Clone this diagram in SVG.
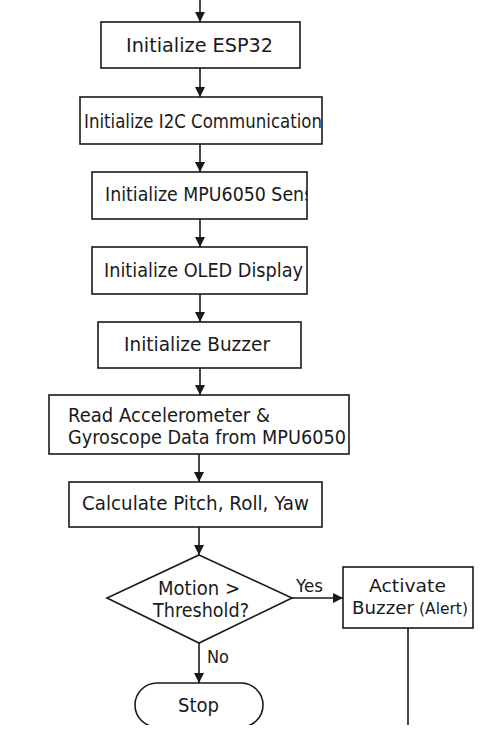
<svg xmlns="http://www.w3.org/2000/svg" width="485" height="752" viewBox="0 0 485 752">
  <defs>
    <marker id="arr" viewBox="0 0 10 10" refX="10" refY="5" markerWidth="10" markerHeight="10" markerUnits="userSpaceOnUse" orient="auto">
      <path d="M0,0 L10,5 L0,10 z" fill="#1a1a1a"/>
    </marker>
    <clipPath id="c2"><rect x="80" y="97" width="242" height="47"/></clipPath>
    <clipPath id="c3"><rect x="92" y="172" width="215" height="47"/></clipPath>
    <clipPath id="cb"><rect x="0" y="0" width="485" height="725"/></clipPath>
  </defs>
  <style>
    .box { fill: #ffffff; stroke: #1a1a1a; stroke-width: 1.6; }
    .ln { fill: none; stroke: #1a1a1a; stroke-width: 1.6; }
    text { font-family: "DejaVu Sans", "Liberation Sans", sans-serif; fill: #1a1a1a; font-size: 19px; }
    .s { font-size: 18px; }
  </style>
  <rect width="485" height="752" fill="#ffffff"/>

  <g id="connectors">
    <line class="ln" x1="200" y1="0" x2="200" y2="22" marker-end="url(#arr)"/>
    <line class="ln" x1="200" y1="68" x2="200" y2="97" marker-end="url(#arr)"/>
    <line class="ln" x1="200" y1="144" x2="200" y2="172" marker-end="url(#arr)"/>
    <line class="ln" x1="200" y1="219" x2="200" y2="247" marker-end="url(#arr)"/>
    <line class="ln" x1="200" y1="294" x2="200" y2="322" marker-end="url(#arr)"/>
    <line class="ln" x1="200" y1="368" x2="200" y2="395" marker-end="url(#arr)"/>
    <line class="ln" x1="199" y1="454" x2="199" y2="482" marker-end="url(#arr)"/>
    <line class="ln" x1="199" y1="527" x2="199" y2="555" marker-end="url(#arr)"/>
    <line class="ln" x1="292" y1="598" x2="343" y2="598" marker-end="url(#arr)"/>
    <line class="ln" x1="199" y1="643" x2="199" y2="683" marker-end="url(#arr)"/>
    <line class="ln" x1="408" y1="628" x2="408" y2="725"/>
    <text class="s" x="296" y="592" textLength="27" lengthAdjust="spacingAndGlyphs">Yes</text>
    <text class="s" x="207" y="663" textLength="22" lengthAdjust="spacingAndGlyphs">No</text>
  </g>

  <g id="n1">
    <rect class="box" x="101" y="22" width="199" height="46"/>
    <text x="126" y="52" textLength="147" lengthAdjust="spacingAndGlyphs">Initialize ESP32</text>
  </g>
  <g id="n2">
    <rect class="box" x="80" y="97" width="242" height="47"/>
    <text x="84" y="128" textLength="238" lengthAdjust="spacingAndGlyphs" clip-path="url(#c2)">Initialize I2C Communication</text>
  </g>
  <g id="n3">
    <rect class="box" x="92" y="172" width="215" height="47"/>
    <text x="105" y="201" textLength="226" lengthAdjust="spacingAndGlyphs" clip-path="url(#c3)">Initialize MPU6050 Sensor</text>
  </g>
  <g id="n4">
    <rect class="box" x="92" y="247" width="215" height="47"/>
    <text x="104" y="277" textLength="199" lengthAdjust="spacingAndGlyphs">Initialize OLED Display</text>
  </g>
  <g id="n5">
    <rect class="box" x="98" y="322" width="203" height="46"/>
    <text x="124" y="351" textLength="146" lengthAdjust="spacingAndGlyphs">Initialize Buzzer</text>
  </g>
  <g id="n6">
    <rect class="box" x="49" y="395" width="300" height="59"/>
    <text x="68" y="421.5" textLength="202" lengthAdjust="spacingAndGlyphs">Read Accelerometer &amp;</text>
    <text x="68" y="444" textLength="278" lengthAdjust="spacingAndGlyphs">Gyroscope Data from MPU6050</text>
  </g>
  <g id="n7">
    <rect class="box" x="69" y="482" width="253" height="45"/>
    <text x="82" y="510" textLength="227" lengthAdjust="spacingAndGlyphs">Calculate Pitch, Roll, Yaw</text>
  </g>
  <g id="n8">
    <polygon class="box" points="199,555 292,598 199,643 107,598"/>
    <text x="158" y="595" textLength="82" lengthAdjust="spacingAndGlyphs">Motion &gt;</text>
    <text x="153" y="617" textLength="96" lengthAdjust="spacingAndGlyphs">Threshold?</text>
  </g>
  <g id="n9">
    <rect class="box" x="343" y="567" width="130" height="61"/>
    <text class="s" x="369" y="592" textLength="77" lengthAdjust="spacingAndGlyphs">Activate</text>
    <text class="s" x="352" y="614" textLength="62" lengthAdjust="spacingAndGlyphs">Buzzer</text>
    <text x="419" y="614" style="font-size:16.5px" textLength="49" lengthAdjust="spacingAndGlyphs">(Alert)</text>
  </g>
  <g id="n10" clip-path="url(#cb)">
    <rect class="box" x="135" y="683" width="128" height="44" rx="22" ry="22"/>
    <text x="178" y="712" textLength="41" lengthAdjust="spacingAndGlyphs">Stop</text>
  </g>
</svg>
